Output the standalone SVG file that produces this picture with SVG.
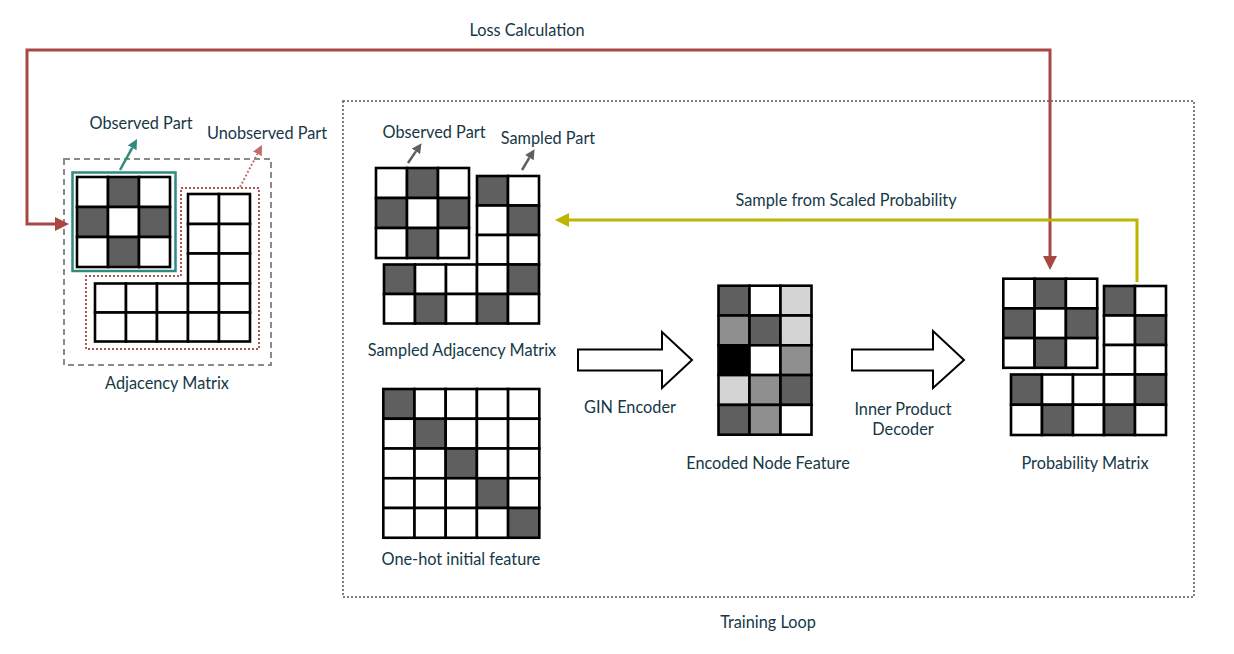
<svg xmlns="http://www.w3.org/2000/svg" width="1234" height="654" viewBox="0 0 1234 654">
<style>
  .lbl{font-family:Lato,"Open Sans","DejaVu Sans",sans-serif;font-size:16.3px;fill:#163847;text-anchor:middle}
  .c{stroke:#000;stroke-width:2.6;fill:#fff}
  .d{stroke:#000;stroke-width:2.6;fill:#5f5f5f}
  .m{stroke:#000;stroke-width:2.6;fill:#8f8f8f}
  .l{stroke:#000;stroke-width:2.6;fill:#d4d4d4}
  .k{stroke:#000;stroke-width:2.6;fill:#000}
  .blk{fill:#fff;stroke:#000;stroke-width:2}
</style>
<defs>
  <marker id="mRed" viewBox="0 0 10 10" refX="0" refY="5" markerUnits="userSpaceOnUse" markerWidth="14" markerHeight="14" orient="auto-start-reverse"><path d="M0,0 L10,5 L0,10 z" fill="#a94744"/></marker>
  <marker id="mYel" viewBox="0 0 10 10" refX="0" refY="5" markerUnits="userSpaceOnUse" markerWidth="14" markerHeight="14" orient="auto"><path d="M0,0 L10,5 L0,10 z" fill="#bdb500"/></marker>
  <marker id="mTeal" viewBox="0 0 10 10" refX="0" refY="5" markerUnits="userSpaceOnUse" markerWidth="10" markerHeight="10" orient="auto"><path d="M0,0 L10,5 L0,10 z" fill="#2f8a80"/></marker>
  <marker id="mPink" viewBox="0 0 10 10" refX="0" refY="5" markerUnits="userSpaceOnUse" markerWidth="10" markerHeight="10" orient="auto"><path d="M0,0 L10,5 L0,10 z" fill="#c0706b"/></marker>
  <marker id="mGray" viewBox="0 0 10 10" refX="0" refY="5" markerUnits="userSpaceOnUse" markerWidth="10" markerHeight="10" orient="auto"><path d="M0,0 L10,5 L0,10 z" fill="#5f5f5f"/></marker>
</defs>
<rect width="1234" height="654" fill="#fff"/>

<g id="training-loop">
  <rect x="343" y="101" width="851" height="496" fill="none" stroke="#555" stroke-width="1.5" stroke-dasharray="2 2"/>
  <text class="lbl" x="768" y="628">Training Loop</text>
</g>

<g id="adjacency-matrix">
  <rect x="64" y="159" width="207" height="206" fill="none" stroke="#8a8a8a" stroke-width="2" stroke-dasharray="6 4"/>
  <text class="lbl" x="167" y="389">Adjacency Matrix</text>
</g>

<g id="observed-part-left">
  <rect x="72.5" y="172.5" width="103" height="98.5" fill="none" stroke="#2f8a80" stroke-width="2.5"/>
  <rect class="c" x="77" y="177" width="31" height="30"/><rect class="d" x="108" y="177" width="31" height="30"/><rect class="c" x="139" y="177" width="31" height="30"/>
  <rect class="d" x="77" y="207" width="31" height="30"/><rect class="c" x="108" y="207" width="31" height="30"/><rect class="d" x="139" y="207" width="31" height="30"/>
  <rect class="c" x="77" y="237" width="31" height="30"/><rect class="d" x="108" y="237" width="31" height="30"/><rect class="c" x="139" y="237" width="31" height="30"/>
  <text class="lbl" x="141" y="129">Observed Part</text>
</g>

<g id="unobserved-part-left">
  <polygon points="181,188 259,188 259,349 86,349 86,276 181,276" fill="none" stroke="#b5534f" stroke-width="2" stroke-dasharray="2 2"/>
  <rect class="c" x="188" y="194" width="31" height="30"/><rect class="c" x="219" y="194" width="31" height="30"/>
  <rect class="c" x="188" y="224" width="31" height="29.5"/><rect class="c" x="219" y="224" width="31" height="29.5"/>
  <rect class="c" x="188" y="253.5" width="31" height="30"/><rect class="c" x="219" y="253.5" width="31" height="30"/>
  <rect class="c" x="95" y="283.5" width="31" height="29"/><rect class="c" x="126" y="283.5" width="31" height="29"/><rect class="c" x="157" y="283.5" width="31" height="29"/><rect class="c" x="188" y="283.5" width="31" height="29"/><rect class="c" x="219" y="283.5" width="31" height="29"/>
  <rect class="c" x="95" y="312.5" width="31" height="29"/><rect class="c" x="126" y="312.5" width="31" height="29"/><rect class="c" x="157" y="312.5" width="31" height="29"/><rect class="c" x="188" y="312.5" width="31" height="29"/><rect class="c" x="219" y="312.5" width="31" height="29"/>
  <text class="lbl" x="267" y="139">Unobserved Part</text>
</g>

<g id="sampled-adjacency-matrix">
  <rect class="c" x="376" y="168" width="31" height="30"/><rect class="d" x="407" y="168" width="31" height="30"/><rect class="c" x="438" y="168" width="31" height="30"/>
  <rect class="d" x="376" y="198" width="31" height="30"/><rect class="c" x="407" y="198" width="31" height="30"/><rect class="d" x="438" y="198" width="31" height="30"/>
  <rect class="c" x="376" y="228" width="31" height="30"/><rect class="d" x="407" y="228" width="31" height="30"/><rect class="c" x="438" y="228" width="31" height="30"/>
  <rect class="d" x="477" y="176" width="31" height="29.5"/><rect class="c" x="508" y="176" width="31" height="29.5"/>
  <rect class="c" x="477" y="205.5" width="31" height="29.5"/><rect class="d" x="508" y="205.5" width="31" height="29.5"/>
  <rect class="c" x="477" y="235" width="31" height="29.5"/><rect class="c" x="508" y="235" width="31" height="29.5"/>
  <rect class="d" x="384" y="264.5" width="31" height="29.5"/><rect class="c" x="415" y="264.5" width="31" height="29.5"/><rect class="c" x="446" y="264.5" width="31" height="29.5"/><rect class="c" x="477" y="264.5" width="31" height="29.5"/><rect class="d" x="508" y="264.5" width="31" height="29.5"/>
  <rect class="c" x="384" y="294" width="31" height="29.5"/><rect class="d" x="415" y="294" width="31" height="29.5"/><rect class="c" x="446" y="294" width="31" height="29.5"/><rect class="d" x="477" y="294" width="31" height="29.5"/><rect class="c" x="508" y="294" width="31" height="29.5"/>
  <text class="lbl" x="434" y="138">Observed Part</text>
  <text class="lbl" x="548" y="144">Sampled Part</text>
  <text class="lbl" x="462" y="356">Sampled Adjacency Matrix</text>
</g>

<g id="one-hot-feature">
  <rect class="d" x="383.3" y="389" width="31.2" height="29.75"/><rect class="c" x="414.5" y="389" width="31.2" height="29.75"/><rect class="c" x="445.7" y="389" width="31.2" height="29.75"/><rect class="c" x="476.9" y="389" width="31.2" height="29.75"/><rect class="c" x="508.1" y="389" width="31.2" height="29.75"/>
  <rect class="c" x="383.3" y="418.75" width="31.2" height="29.75"/><rect class="d" x="414.5" y="418.75" width="31.2" height="29.75"/><rect class="c" x="445.7" y="418.75" width="31.2" height="29.75"/><rect class="c" x="476.9" y="418.75" width="31.2" height="29.75"/><rect class="c" x="508.1" y="418.75" width="31.2" height="29.75"/>
  <rect class="c" x="383.3" y="448.5" width="31.2" height="29.75"/><rect class="c" x="414.5" y="448.5" width="31.2" height="29.75"/><rect class="d" x="445.7" y="448.5" width="31.2" height="29.75"/><rect class="c" x="476.9" y="448.5" width="31.2" height="29.75"/><rect class="c" x="508.1" y="448.5" width="31.2" height="29.75"/>
  <rect class="c" x="383.3" y="478.25" width="31.2" height="29.75"/><rect class="c" x="414.5" y="478.25" width="31.2" height="29.75"/><rect class="c" x="445.7" y="478.25" width="31.2" height="29.75"/><rect class="d" x="476.9" y="478.25" width="31.2" height="29.75"/><rect class="c" x="508.1" y="478.25" width="31.2" height="29.75"/>
  <rect class="c" x="383.3" y="508" width="31.2" height="29.75"/><rect class="c" x="414.5" y="508" width="31.2" height="29.75"/><rect class="c" x="445.7" y="508" width="31.2" height="29.75"/><rect class="c" x="476.9" y="508" width="31.2" height="29.75"/><rect class="d" x="508.1" y="508" width="31.2" height="29.75"/>
  <text class="lbl" x="461" y="565">One-hot initial feature</text>
</g>

<g id="gin-encoder">
  <polygon class="blk" points="578,349.5 662,349.5 662,332 692,360 662,388 662,370.5 578,370.5"/>
  <text class="lbl" x="630" y="413">GIN Encoder</text>
</g>

<g id="encoded-node-feature">
  <rect class="d" x="718.5" y="285.7" width="31" height="29.8"/><rect class="c" x="749.5" y="285.7" width="31" height="29.8"/><rect class="l" x="780.5" y="285.7" width="31" height="29.8"/>
  <rect class="m" x="718.5" y="315.5" width="31" height="29.8"/><rect class="d" x="749.5" y="315.5" width="31" height="29.8"/><rect class="l" x="780.5" y="315.5" width="31" height="29.8"/>
  <rect class="k" x="718.5" y="345.3" width="31" height="29.8"/><rect class="c" x="749.5" y="345.3" width="31" height="29.8"/><rect class="m" x="780.5" y="345.3" width="31" height="29.8"/>
  <rect class="l" x="718.5" y="375.1" width="31" height="29.8"/><rect class="m" x="749.5" y="375.1" width="31" height="29.8"/><rect class="d" x="780.5" y="375.1" width="31" height="29.8"/>
  <rect class="d" x="718.5" y="404.9" width="31" height="29.8"/><rect class="m" x="749.5" y="404.9" width="31" height="29.8"/><rect class="c" x="780.5" y="404.9" width="31" height="29.8"/>
  <text class="lbl" x="768" y="469">Encoded Node Feature</text>
</g>

<g id="inner-product-decoder">
  <polygon class="blk" points="852,349.5 933,349.5 933,331 964,360 933,388 933,370.5 852,370.5"/>
  <text class="lbl" x="903" y="415">Inner Product</text>
  <text class="lbl" x="903" y="435">Decoder</text>
</g>

<g id="probability-matrix">
  <rect class="c" x="1003.3" y="278.7" width="31.3" height="29.7"/><rect class="d" x="1034.6" y="278.7" width="31.3" height="29.7"/><rect class="c" x="1065.9" y="278.7" width="31.3" height="29.7"/>
  <rect class="d" x="1003.3" y="308.4" width="31.3" height="29.7"/><rect class="c" x="1034.6" y="308.4" width="31.3" height="29.7"/><rect class="d" x="1065.9" y="308.4" width="31.3" height="29.7"/>
  <rect class="c" x="1003.3" y="338.1" width="31.3" height="29.7"/><rect class="d" x="1034.6" y="338.1" width="31.3" height="29.7"/><rect class="c" x="1065.9" y="338.1" width="31.3" height="29.7"/>
  <rect class="d" x="1104" y="286" width="31" height="29.5"/><rect class="c" x="1135" y="286" width="31" height="29.5"/>
  <rect class="c" x="1104" y="315.5" width="31" height="29.5"/><rect class="d" x="1135" y="315.5" width="31" height="29.5"/>
  <rect class="c" x="1104" y="345" width="31" height="29.5"/><rect class="c" x="1135" y="345" width="31" height="29.5"/>
  <rect class="d" x="1011" y="374.5" width="31" height="30.25"/><rect class="c" x="1042" y="374.5" width="31" height="30.25"/><rect class="c" x="1073" y="374.5" width="31" height="30.25"/><rect class="c" x="1104" y="374.5" width="31" height="30.25"/><rect class="d" x="1135" y="374.5" width="31" height="30.25"/>
  <rect class="c" x="1011" y="404.75" width="31" height="30.25"/><rect class="d" x="1042" y="404.75" width="31" height="30.25"/><rect class="c" x="1073" y="404.75" width="31" height="30.25"/><rect class="d" x="1104" y="404.75" width="31" height="30.25"/><rect class="c" x="1135" y="404.75" width="31" height="30.25"/>
  <text class="lbl" x="1085" y="469">Probability Matrix</text>
</g>

<g id="connectors" fill="none">
  <path d="M55,224 H27 V50 H1050 V256" stroke="#a94744" stroke-width="3" marker-start="url(#mRed)" marker-end="url(#mRed)"/>
  <text class="lbl" x="527" y="36">Loss Calculation</text>
  <path d="M1137,282 V220 H569" stroke="#bdb500" stroke-width="3" marker-end="url(#mYel)"/>
  <text class="lbl" x="846" y="206">Sample from Scaled Probability</text>
  <path d="M120,170 L132.2,147.8" stroke="#2f8a80" stroke-width="2.5" marker-end="url(#mTeal)"/>
  <path d="M240,187 L257.4,153.9" stroke="#c0706b" stroke-width="2" stroke-dasharray="2 2" marker-end="url(#mPink)"/>
  <path d="M408,163 L415.9,151.4" stroke="#5f5f5f" stroke-width="2.5" marker-end="url(#mGray)"/>
  <path d="M522,170 L529.4,157.7" stroke="#5f5f5f" stroke-width="2.5" marker-end="url(#mGray)"/>
</g>
</svg>
